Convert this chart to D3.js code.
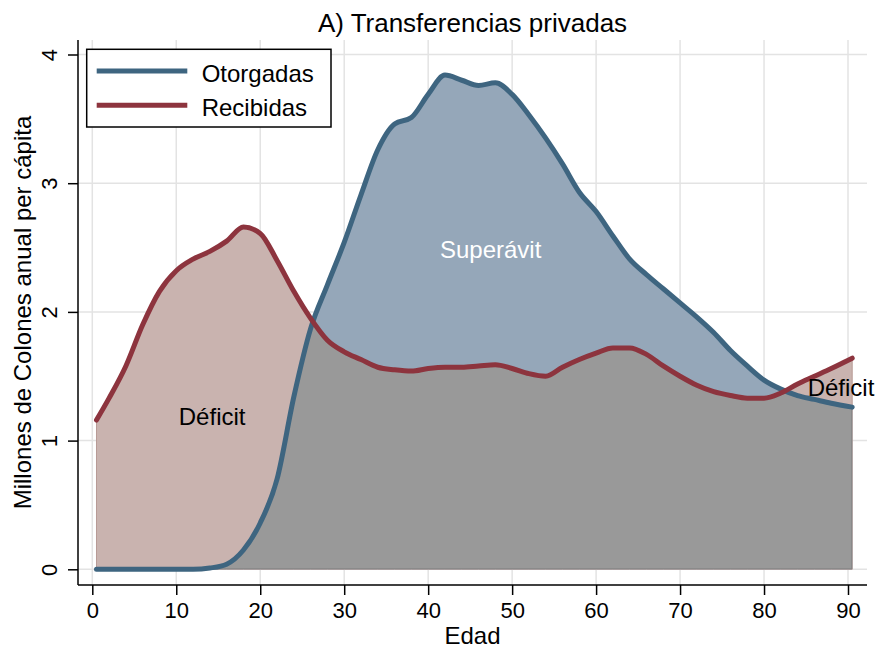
<!DOCTYPE html>
<html>
<head>
<meta charset="utf-8">
<script src="https://cdn.jsdelivr.net/npm/d3@7"></script>
<style>
  body { margin: 0; background: #fff; }
  svg { display: block; font-family: "Liberation Sans", Arial, sans-serif; }
</style>
</head>
<body>
<div id="chart"></div>
<script>
// Edad (años) y valores en millones de colones anuales per cápita
const edad = [0.5, 2, 4, 6, 8, 10, 12, 14, 16, 18, 20, 22, 24, 26, 28, 30, 32, 34, 36, 38,
  40, 42, 44, 46, 48, 50, 52, 54, 56, 58, 60, 62, 64, 66, 68, 70, 72, 74, 76, 78,
  80, 82, 84, 86, 88, 90.5];
const otorgadas = [0, 0, 0, 0, 0, 0, 0, 0.01, 0.04, 0.15, 0.36, 0.70, 1.34, 1.87, 2.21, 2.54, 2.91, 3.26, 3.46, 3.51,
  3.69, 3.84, 3.80, 3.76, 3.78, 3.69, 3.53, 3.35, 3.15, 2.93, 2.78, 2.59, 2.41, 2.29, 2.18, 2.07, 1.96, 1.84, 1.70, 1.58,
  1.47, 1.40, 1.35, 1.32, 1.29, 1.26];
const recibidas = [1.16, 1.33, 1.58, 1.90, 2.16, 2.32, 2.41, 2.47, 2.55, 2.66, 2.61, 2.40, 2.16, 1.95, 1.78, 1.69, 1.63, 1.57, 1.55, 1.54,
  1.56, 1.57, 1.57, 1.58, 1.59, 1.56, 1.52, 1.50, 1.57, 1.63, 1.68, 1.72, 1.72, 1.67, 1.58, 1.50, 1.43, 1.38, 1.35, 1.33,
  1.33, 1.37, 1.44, 1.50, 1.56, 1.64];
const xTicks = [0, 10, 20, 30, 40, 50, 60, 70, 80, 90];
const yTicks = [0, 1, 2, 3, 4];
const series = ['Otorgadas', 'Recibidas'];
const anotaciones = [
  { texto: 'Déficit', edad: 10.3, valor: 1.12, color: '#000' },
  { texto: 'Superávit', edad: 41.4, valor: 2.42, color: '#fff' },
  { texto: 'Déficit', edad: 85.2, valor: 1.35, color: '#000' }
];

const width = 879;
const height = 650;
const plot = { left: 78, right: 867, top: 40, bottom: 585 };

const colBlue = '#3e6580';
const colRed = '#8d343e';
const fillBlue = '#95a7b9';
const fillPink = '#c9b3af';
const fillGrey = '#999999';

const svg = d3.select('#chart').append('svg')
    .attr('width', width)
    .attr('height', height);

const x = d3.scaleLinear().domain([0, 90]).range([92.3, 848]);
const y = d3.scaleLinear().domain([0, 4]).range([569.3, 54.5]);

const data = edad.map((e, i) => ({ edad: e, ot: otorgadas[i], re: recibidas[i] }));

// Grid
svg.append('g').selectAll('line')
    .data(xTicks)
    .join('line')
    .attr('x1', d => x(d)).attr('x2', d => x(d))
    .attr('y1', plot.top).attr('y2', plot.bottom)
    .attr('stroke', '#e3e3e3').attr('stroke-width', 1.5);
svg.append('g').selectAll('line')
    .data(yTicks)
    .join('line')
    .attr('x1', plot.left).attr('x2', plot.right)
    .attr('y1', d => y(d)).attr('y2', d => y(d))
    .attr('stroke', '#e3e3e3').attr('stroke-width', 1.5);

// Areas
const areaOt = d3.area()
    .x(d => x(d.edad)).y0(y(0)).y1(d => y(d.ot))
    .curve(d3.curveMonotoneX);
const areaRe = d3.area()
    .x(d => x(d.edad)).y0(y(0)).y1(d => y(d.re))
    .curve(d3.curveMonotoneX);

svg.append('defs').append('clipPath')
    .attr('id', 'clip-ot')
  .append('path')
    .attr('d', areaOt(data));

svg.append('path')
    .attr('d', areaRe(data))
    .attr('fill', fillPink)
    .attr('stroke', '#b89a95').attr('stroke-width', 1);
svg.append('path')
    .attr('d', areaOt(data))
    .attr('fill', fillBlue);
svg.append('path')
    .attr('d', areaRe(data))
    .attr('clip-path', 'url(#clip-ot)')
    .attr('fill', fillGrey)
    .attr('stroke', '#858585').attr('stroke-width', 2);

// Lines
const lineOt = d3.line().x(d => x(d.edad)).y(d => y(d.ot)).curve(d3.curveMonotoneX);
const lineRe = d3.line().x(d => x(d.edad)).y(d => y(d.re)).curve(d3.curveMonotoneX);
svg.append('path')
    .attr('d', lineOt(data))
    .attr('fill', 'none').attr('stroke', colBlue).attr('stroke-width', 5)
    .attr('stroke-linejoin', 'round').attr('stroke-linecap', 'round');
svg.append('path')
    .attr('d', lineRe(data))
    .attr('fill', 'none').attr('stroke', colRed).attr('stroke-width', 5)
    .attr('stroke-linejoin', 'round').attr('stroke-linecap', 'round');

// Annotations
svg.append('g').selectAll('text')
    .data(anotaciones)
    .join('text')
    .attr('x', d => x(d.edad))
    .attr('y', d => y(d.valor))
    .attr('fill', d => d.color)
    .style('font-size', '24px')
    .text(d => d.texto);

// Axes
const xAxis = svg.append('g')
    .attr('transform', `translate(0,${plot.bottom})`)
    .call(d3.axisBottom(x).tickValues(xTicks).tickFormat(d3.format('d')).tickSize(10).tickSizeOuter(0));
xAxis.select('.domain').attr('d', `M${plot.left},0H${plot.right}`)
    .attr('stroke', '#000').attr('stroke-width', 1.5);
xAxis.selectAll('.tick line').attr('stroke', '#000').attr('stroke-width', 1.5);
xAxis.selectAll('.tick text')
    .attr('y', 33).attr('dy', 0)
    .attr('fill', '#000')
    .style('font-size', '22px')
    .style('font-family', '"Liberation Sans", Arial, sans-serif');

const yAxis = svg.append('g')
    .attr('transform', `translate(${plot.left},0)`)
    .call(d3.axisLeft(y).tickValues(yTicks).tickFormat(d3.format('d')).tickSize(10).tickSizeOuter(0));
yAxis.select('.domain').attr('d', `M0,${plot.top}V${plot.bottom}`)
    .attr('stroke', '#000').attr('stroke-width', 1.5);
yAxis.selectAll('.tick line').attr('stroke', '#000').attr('stroke-width', 1.5);
yAxis.selectAll('.tick text')
    .attr('transform', 'rotate(-90)')
    .attr('x', 0).attr('y', -21).attr('dy', 0)
    .attr('text-anchor', 'middle')
    .attr('fill', '#000')
    .style('font-size', '22px')
    .style('font-family', '"Liberation Sans", Arial, sans-serif');

// Titles
svg.append('text')
    .attr('x', (plot.left + plot.right) / 2)
    .attr('y', 32)
    .attr('text-anchor', 'middle')
    .style('font-size', '26px')
    .text('A) Transferencias privadas');
svg.append('text')
    .attr('x', (plot.left + plot.right) / 2)
    .attr('y', 644)
    .attr('text-anchor', 'middle')
    .style('font-size', '24px')
    .text('Edad');
svg.append('text')
    .attr('transform', `translate(31,${(plot.top + plot.bottom) / 2}) rotate(-90)`)
    .attr('text-anchor', 'middle')
    .style('font-size', '24px')
    .text('Millones de Colones anual per cápita');

// Legend
const legend = svg.append('g');
legend.append('rect')
    .attr('x', 86.7).attr('y', 49.3)
    .attr('width', 244.3).attr('height', 77.7)
    .attr('fill', '#fff').attr('stroke', '#000').attr('stroke-width', 1.5);
const legRows = legend.selectAll('g')
    .data(series)
    .join('g')
    .attr('transform', (d, i) => `translate(0,${71 + i * 34.3})`);
legRows.append('line')
    .attr('x1', 96.7).attr('x2', 187.3)
    .attr('stroke', (d, i) => i === 0 ? colBlue : colRed)
    .attr('stroke-width', 5);
legRows.append('text')
    .attr('x', 201.7).attr('y', 10.5)
    .style('font-size', '24px')
    .text(d => d);
</script>
</body>
</html>
